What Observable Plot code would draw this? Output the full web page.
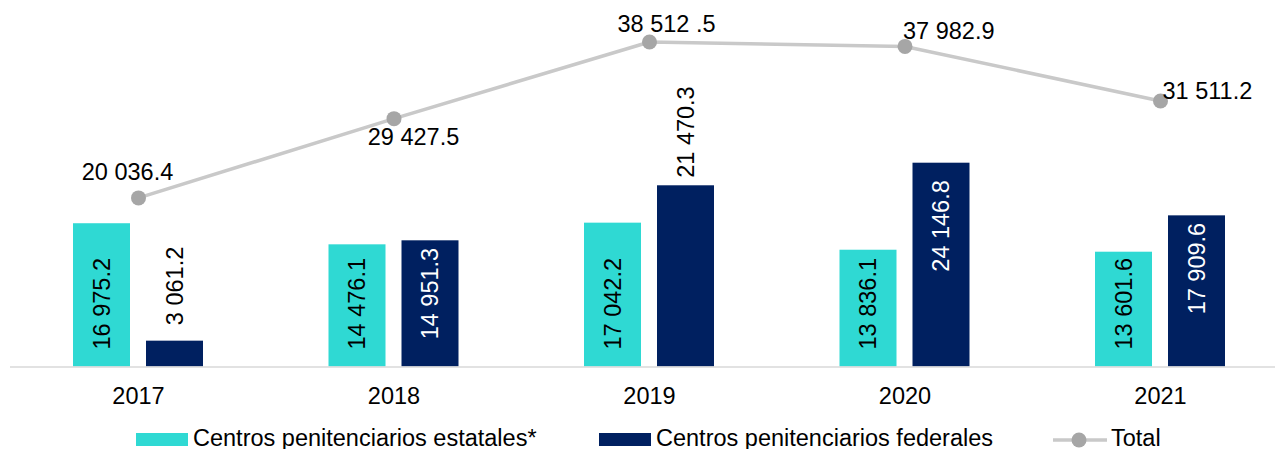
<!DOCTYPE html>
<html>
<head>
<meta charset="utf-8">
<script src="https://cdn.jsdelivr.net/npm/d3@7"></script>
<script src="https://cdn.jsdelivr.net/npm/@observablehq/plot@0.6"></script>
<style>
  html, body { margin: 0; padding: 0; background: #fff; }
  #chart { position: relative; width: 1275px; height: 449px; overflow: hidden; font-family: "Liberation Sans", Arial, sans-serif; color: #000; }
  #chart svg.plot { position: absolute; left: 0; top: 0; }
  .lg { position: absolute; }
  .lg-text { position: absolute; top: 427px; font-size: 23.5px; line-height: 23.5px; white-space: nowrap; }
</style>
</head>
<body>
<div id="chart"></div>
<script>
// ---- data ----
const years = ["2017", "2018", "2019", "2020", "2021"];
const estatales = [16975.2, 14476.1, 17042.2, 13836.1, 13601.6];
const federales = [3061.2, 14951.3, 21470.3, 24146.8, 17909.6];
const total = [20036.4, 29427.5, 38512.5, 37982.9, 31511.2];
const totalLabels = ["20 036.4", "29 427.5", "38 512 .5", "37 982.9", "31 511.2"];
const seriesNames = ["Centros penitenciarios estatales*", "Centros penitenciarios federales", "Total"];

// ---- styles ----
const COLOR_EST = "#2fd9d3";
const COLOR_FED = "#002060";
const COLOR_LINE = "#c9c9c9";
const COLOR_DOT = "#a6a6a6";
const FS = 23.5;
const FONT = "'Liberation Sans', Arial, sans-serif";

const fmt = v => d3.format(",.1f")(v).replace(/,/g, " ");

const rows = years.map((y, i) => ({year: y, est: estatales[i], fed: federales[i], total: total[i], totalLabel: totalLabels[i]}));

// label placements (pixel offsets) for total line labels
const totalPlacement = {
  "2017": {dx: -11, dy: -25, anchor: "middle"},
  "2018": {dx: 19.5, dy: 19, anchor: "middle"},
  "2019": {dx: 17, dy: -17.5, anchor: "middle"},
  "2020": {dx: -2, dy: -15, anchor: "start"},
  "2021": {dx: 2, dy: -9.5, anchor: "start"}
};
// placement of federal bar labels
const fedPlacement = {
  "2017": {inside: false, gap: 16},
  "2018": {inside: true, gap: 7},
  "2019": {inside: false, gap: 8},
  "2020": {inside: true, gap: 17},
  "2021": {inside: true, gap: 7}
};

const BAND = 255.5;
const X0 = 10.25;
const OFF = 36.5; // bar center offset from group center
const BW = 57;    // bar width
const insetNear = BAND / 2 - OFF - BW / 2; // 62.75
const insetFar = BAND / 2 + OFF - BW / 2;  // 135.75

const marks = [
  Plot.barY(rows, {x: "year", y: "est", fill: COLOR_EST, insetLeft: insetNear, insetRight: insetFar}),
  Plot.barY(rows, {x: "year", y: "fed", fill: COLOR_FED, insetLeft: insetFar, insetRight: insetNear}),
  Plot.ruleY([0], {stroke: "#d9d9d9", strokeWidth: 1.5}),
  // estatales labels (inside, bottom)
  Plot.text(rows, {x: "year", y: () => 0, text: d => fmt(d.est), rotate: -90, textAnchor: "start",
    dx: -OFF, dy: -17.5, fill: "#000", fontSize: FS}),
  // federales labels
  ...years.map(yr => {
    const p = fedPlacement[yr];
    return Plot.text(rows.filter(d => d.year === yr), {x: "year", y: "fed", text: d => fmt(d.fed), rotate: -90,
      textAnchor: p.inside ? "end" : "start", dx: OFF, dy: p.inside ? p.gap : -p.gap,
      fill: p.inside ? "#fff" : "#000", fontSize: FS});
  }),
  Plot.line(rows, {x: "year", y: "total", stroke: COLOR_LINE, strokeWidth: 3.5}),
  Plot.dot(rows, {x: "year", y: "total", r: 7.5, fill: COLOR_DOT, stroke: "none"}),
  ...years.map(yr => {
    const p = totalPlacement[yr];
    return Plot.text(rows.filter(d => d.year === yr), {x: "year", y: "total", text: "totalLabel",
      dx: p.dx, dy: p.dy, textAnchor: p.anchor, fill: "#000", fontSize: FS});
  })
];

const plot = Plot.plot({
  width: 1275,
  height: 420,
  marginLeft: 10,
  marginRight: 0,
  marginTop: 0,
  marginBottom: 53.5,
  style: {fontFamily: FONT, fontSize: FS + "px", color: "#000", background: "transparent", overflow: "visible"},
  x: {type: "band", domain: years, range: [X0, X0 + BAND * years.length], padding: 0, round: false, tickSize: 0, tickPadding: 20, label: null},
  y: {domain: [0, 43424], axis: null},
  marks
});
const chart = document.getElementById("chart");
chart.appendChild(plot);

// ---- legend (HTML below the svg) ----
function sw(left, color) {
  const d = document.createElement("div");
  d.className = "lg";
  Object.assign(d.style, {left: left + "px", top: "433px", width: "52px", height: "13px", background: color});
  chart.appendChild(d);
}
function txt(left, s) {
  const d = document.createElement("div");
  d.className = "lg-text";
  d.style.left = left + "px";
  d.textContent = s;
  chart.appendChild(d);
}
sw(136, COLOR_EST); txt(193, seriesNames[0]);
sw(599, COLOR_FED); txt(656, seriesNames[1]);
const ns = "http://www.w3.org/2000/svg";
const ls = document.createElementNS(ns, "svg");
ls.setAttribute("width", 56); ls.setAttribute("height", 20);
Object.assign(ls.style, {position: "absolute", left: "1052px", top: "429.5px"});
const ln = document.createElementNS(ns, "line");
ln.setAttribute("x1", 1); ln.setAttribute("x2", 55); ln.setAttribute("y1", 10); ln.setAttribute("y2", 10);
ln.setAttribute("stroke", COLOR_LINE); ln.setAttribute("stroke-width", 3.5);
const ci = document.createElementNS(ns, "circle");
ci.setAttribute("cx", 27); ci.setAttribute("cy", 10); ci.setAttribute("r", 7.5); ci.setAttribute("fill", COLOR_DOT);
ls.appendChild(ln); ls.appendChild(ci);
chart.appendChild(ls);
txt(1111, seriesNames[2]);
</script>
</body>
</html>
